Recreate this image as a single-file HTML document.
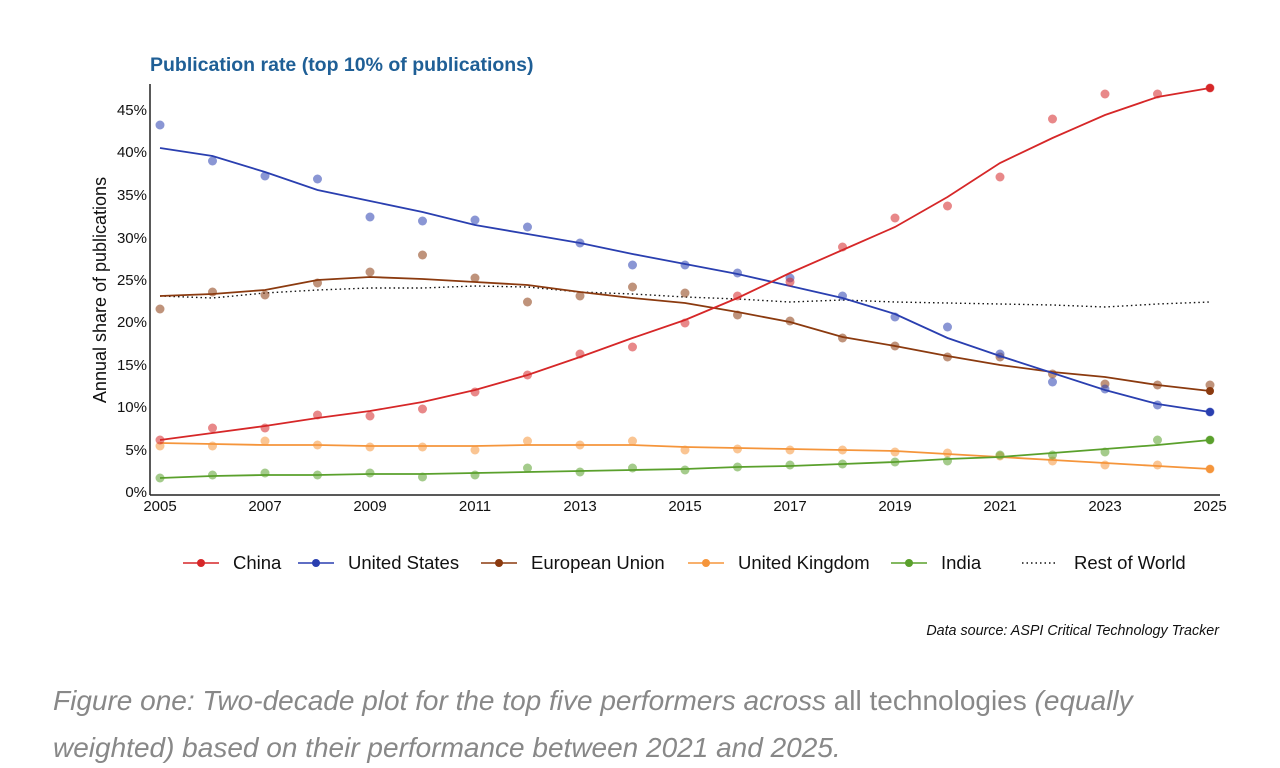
<!DOCTYPE html>
<html><head><meta charset="utf-8"><style>
body{margin:0;background:#fff;width:1280px;height:768px;overflow:hidden}
svg{display:block}
</style></head><body>
<svg id="s" width="1280" height="768" xmlns="http://www.w3.org/2000/svg" font-family="Liberation Sans, Arial, sans-serif">
<text x="150" y="71" font-size="19.5" font-weight="bold" fill="#1f5f96">Publication rate (top 10% of publications)</text>
<text transform="translate(106,290) rotate(-90)" text-anchor="middle" font-size="18" fill="#111">Annual share of publications</text>
<line x1="150" y1="84" x2="150" y2="495" stroke="#222" stroke-width="1.5"/>
<line x1="150" y1="495" x2="1220" y2="495" stroke="#222" stroke-width="1.5"/>
<g font-size="15" fill="#111" text-anchor="end">
<text x="147" y="115">45%</text><text x="147" y="157">40%</text><text x="147" y="200">35%</text><text x="147" y="243">30%</text><text x="147" y="285">25%</text><text x="147" y="327">20%</text><text x="147" y="370">15%</text><text x="147" y="412">10%</text><text x="147" y="455">5%</text><text x="147" y="497">0%</text>
</g>
<g id="xt" font-size="15" fill="#111" text-anchor="middle"></g>
<g id="d"></g>
<g font-size="18.5" fill="#111">
<line x1="183" y1="563" x2="219" y2="563" stroke="#d62728" stroke-width="1.5"/><circle cx="201" cy="563" r="4" fill="#d62728"/><text x="233" y="569">China</text>
<line x1="298" y1="563" x2="334" y2="563" stroke="#2a3fb0" stroke-width="1.5"/><circle cx="316" cy="563" r="4" fill="#2a3fb0"/><text x="348" y="569">United States</text>
<line x1="481" y1="563" x2="517" y2="563" stroke="#8b3a0f" stroke-width="1.5"/><circle cx="499" cy="563" r="4" fill="#8b3a0f"/><text x="531" y="569">European Union</text>
<line x1="688" y1="563" x2="724" y2="563" stroke="#f5953b" stroke-width="1.5"/><circle cx="706" cy="563" r="4" fill="#f5953b"/><text x="738" y="569">United Kingdom</text>
<line x1="891" y1="563" x2="927" y2="563" stroke="#5aa02c" stroke-width="1.5"/><circle cx="909" cy="563" r="4" fill="#5aa02c"/><text x="941" y="569">India</text>
<line x1="1022" y1="563" x2="1058" y2="563" stroke="#111" stroke-width="1.5" stroke-dasharray="1.5,3"/><text x="1074" y="569">Rest of World</text>
</g>
<text x="1219" y="635" text-anchor="end" font-size="14.3" font-style="italic" fill="#111">Data source: ASPI Critical Technology Tracker</text>
<text x="53" y="710" font-size="28" fill="#888" font-style="italic">Figure one: Two-decade plot for the top five performers across <tspan font-style="normal">all technologies</tspan> (equally</text>
<text x="53" y="757" font-size="28" fill="#888" font-style="italic">weighted) based on their performance between 2021 and 2025.</text>
</svg>
<script>
var X=function(i){return 160+i*52.5};
var xt=document.getElementById('xt'),h='';
for(var y=2005;y<=2025;y+=2)h+='<text x="'+X(y-2005)+'" y="511">'+y+'</text>';
xt.innerHTML=h;
var S=[
['#f5953b',[446,446,441,445,447,447,450,441,445,441,450,449,450,450,452,453,456,461,465,465,469],[443,444,445,445,446,446,446,445,445,445,447,448,449,450,451,454,457,460,463,466,469]],
['#5aa02c',[478,475,473,475,473,477,475,468,472,468,470,467,465,464,462,461,455,455,452,440,440],[478,476,475,475,474,474,473,472,471,470,469,467,466,464,462,459,457,453,449,445,440]],
['#8b3a0f',[309,292,295,283,272,255,278,302,296,287,293,315,321,338,346,357,357,374,384,385,385],[296,294,290,280,277,279,282,285,292,298,303,312,322,337,346,356,365,372,377,385,391]],
['#2a3fb0',[125,161,176,179,217,221,220,227,243,265,265,273,278,296,317,327,354,382,389,405,412],[148,156,172,190,201,212,225,234,243,254,264,274,286,298,314,338,356,373,390,404,412]],
['#d62728',[440,428,428,415,416,409,392,375,354,347,323,296,282,247,218,206,177,119,94,94,88],[440,433,426,418,411,402,390,375,357,338,320,298,273,250,227,197,163,138,115,97,88]]
];
var row=[296,298,293,290,288,288,286,287,292,294,297,299,302,300,302,303,304,305,307,304,302];
var o='<polyline fill="none" stroke="#111" stroke-width="1.4" stroke-dasharray="1.5,3" points="'+row.map(function(v,i){return X(i)+','+v}).join(' ')+'"/>';
S.forEach(function(s){
 s[1].forEach(function(v,i){o+='<circle cx="'+X(i)+'" cy="'+v+'" r="4.5" fill="'+s[0]+'" opacity="0.55"/>'});
 o+='<polyline fill="none" stroke="'+s[0]+'" stroke-width="1.8" points="'+s[2].map(function(v,i){return X(i)+','+v}).join(' ')+'"/>';
 o+='<circle cx="'+X(20)+'" cy="'+s[2][20]+'" r="4" fill="'+s[0]+'"/>';
});
document.getElementById('d').innerHTML=o;
</script>
</body></html>
